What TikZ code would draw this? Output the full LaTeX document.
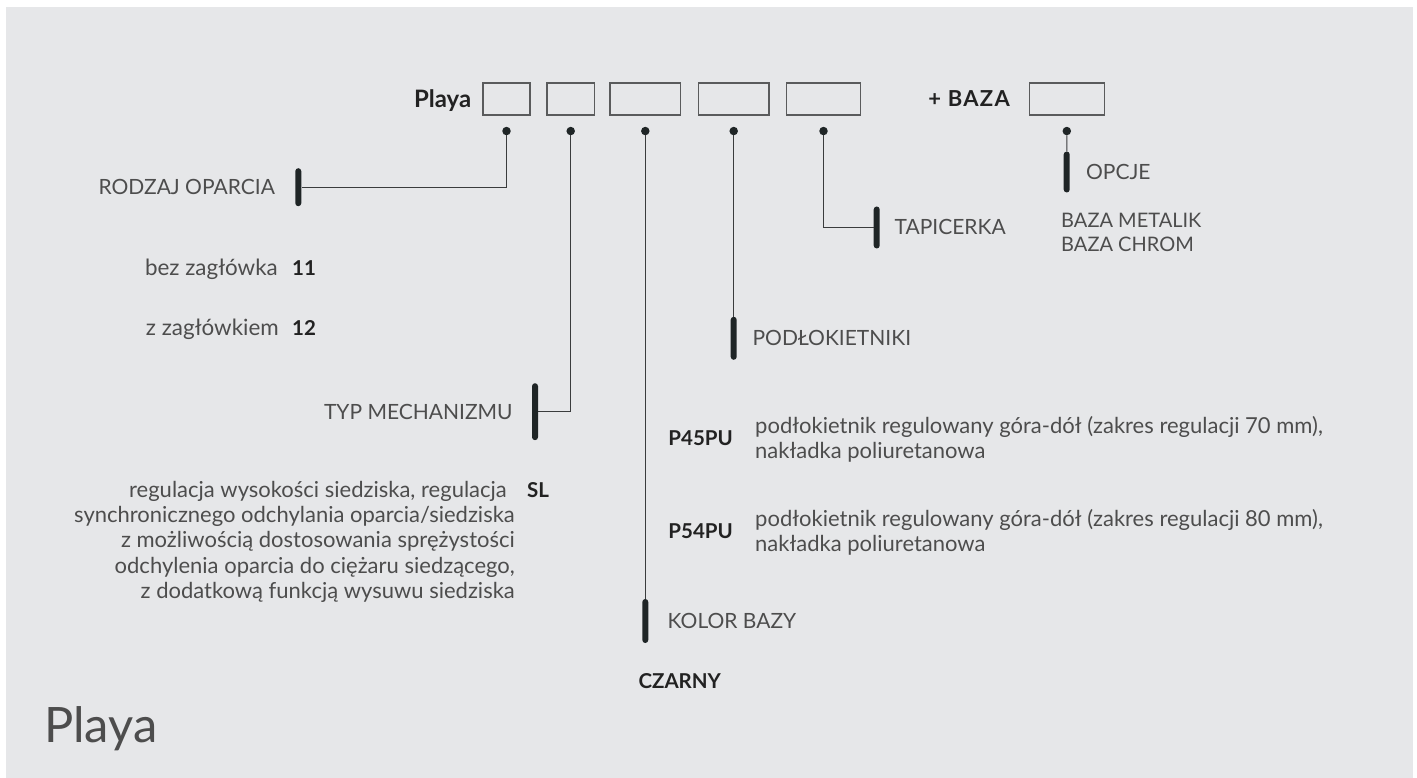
\documentclass[tikz,border=0pt]{standalone}
\usepackage{fontspec}
\setmainfont{Lato}
\usetikzlibrary{positioning}

\definecolor{bgcol}{HTML}{E6E7E9}
\definecolor{inkcol}{HTML}{1F2526}
\definecolor{wirecol}{HTML}{3A3C3D}
\definecolor{boxcol}{HTML}{5A5B5C}
\definecolor{txtcol}{HTML}{4D4D4D}
\definecolor{codecol}{HTML}{222222}

\begin{document}
\begin{tikzpicture}[
		x=1pt, y=-1pt,
		slot/.style={draw=boxcol, line width=1.2pt, minimum height=32pt, inner sep=0pt},
		pin/.style={circle, fill=inkcol, minimum size=8.5pt, inner sep=0pt},
		bar/.style={fill=inkcol, rounded corners=3pt, minimum width=6pt, inner sep=0pt},
		wire/.style={draw=wirecol, line width=1pt},
		head/.style={text=codecol, font=\bfseries\fontsize{24}{28}\selectfont, inner sep=0pt, text height=17.3pt, text depth=0pt},
		lbl/.style={text=txtcol, font=\fontsize{21}{25}\selectfont, inner sep=0pt, text height=15pt, text depth=0pt},
		opt/.style={text=txtcol, font=\fontsize{22.4}{24}\selectfont, inner sep=0pt},
		code/.style={text=codecol, font=\bfseries\fontsize{20.5}{25}\selectfont, inner sep=0pt},
		desc/.style={text=txtcol, font=\fontsize{22}{25.3}\selectfont, inner sep=0pt},
		title/.style={text=txtcol, font=\fontsize{48.8}{52}\selectfont, inner sep=0pt}
		]
		
		% background
		\fill[white] (0,0) rectangle (1417,778);
		\fill[bgcol] (6,7) rectangle (1413,778);
		\useasboundingbox (0,0) rectangle (1417,778);
		
		% code slots
		\node[slot, minimum width=47pt] (s1) at (506.5,99) {};
		\node[slot, minimum width=47.3pt] (s2) at (570.7,99) {};
		\node[slot, minimum width=70.7pt] (s3) at (645.3,99) {};
		\node[slot, minimum width=70.7pt] (s4) at (733.7,99) {};
		\node[slot, minimum width=74.4pt] (s5) at (823.5,99) {};
		\node[slot, minimum width=75pt] (s6) at (1066.8,99) {};
		\node[head, left=11pt of s1] (model) {Playa};
		\node[head, font=\bfseries\fontsize{22}{26}\selectfont\addfontfeature{LetterSpace=6}, text height=16pt, left=18.6pt of s6] (baza) {+ BAZA};
		
		\node[pin, below=11pt of s1] (p1) {};
		\node[pin, below=11pt of s2] (p2) {};
		\node[pin, below=11pt of s3] (p3) {};
		\node[pin, below=11pt of s4] (p4) {};
		\node[pin, below=11pt of s5] (p5) {};
		\node[pin, below=11pt of s6] (p6) {};
		
		% markers
		\node[bar, minimum height=38pt] (b1) at (298.3,187.2) {};
		\node[bar, minimum height=57pt] (b2) at (535,411.7) {};
		\node[bar, minimum height=44pt] (b3) at (645.3,621) {};
		\node[bar, minimum height=43pt] (b4) at (733.7,338.3) {};
		\node[bar, minimum height=42pt] (b5) at (876.7,227.5) {};
		\node[bar, minimum height=41pt] (b6) at (1066.7,172) {};
		
		\node[lbl, left=20pt of b1] (t1) {RODZAJ OPARCIA};
		\node[lbl, left=19pt of b2] (t2) {TYP MECHANIZMU};
		\node[lbl, right=19pt of b3] (t3) {KOLOR BAZY};
		\node[lbl, right=15.5pt of b4] (t4) {PODŁOKIETNIKI};
		\node[lbl, right=14.5pt of b5] (t5) {TAPICERKA};
		\node[lbl, right=16pt of b6] (t6) {OPCJE};
		
		\draw[wire] (p1) |- (b1);
		\draw[wire] (p2) |- (b2);
		\draw[wire] (p3) -- (b3);
		\draw[wire] (p4) -- (b4);
		\draw[wire] (p5) |- (b5);
		\draw[wire] (p6) -- (b6);
		
		% options
		\node[code, anchor=base west] (c11) at (292,275.5) {11};
		\node[opt, base left=14pt of c11] (o11) {bez zagłówka};
		\node[code, anchor=base west] (c12) at (292,335) {12};
		\node[opt, base left=13pt of c12] (o12) {z zagłówkiem};
		
		\node[code, anchor=base west] (csl) at (527,497.5) {SL};
		\node[desc, align=right, anchor=base east] (dsl) at (515,598.3) {regulacja wysokości siedziska, regulacja\kern8pt\\
			synchronicznego odchylania oparcia/siedziska\\
			z możliwością dostosowania sprężystości\\
			odchylenia oparcia do ciężaru siedzącego,\\
			z dodatkową funkcją wysuwu siedziska};
		
		\node[code, anchor=base east] (c45) at (733,445.3) {P45PU};
		\node[desc, align=left, anchor=base west] (d45) at (755,458.3) {podłokietnik regulowany góra-dół (zakres regulacji 70 mm),\\ nakładka poliuretanowa};
		\node[code, anchor=base east] (c54) at (733,538.3) {P54PU};
		\node[desc, align=left, anchor=base west] (d54) at (755,551.6) {podłokietnik regulowany góra-dół (zakres regulacji 80 mm),\\ nakładka poliuretanowa};
		
		\node[code, anchor=base west] (czarny) at (638.3,688.3) {CZARNY};
		\node[opt, font=\fontsize{20}{24}\selectfont, align=left, anchor=base west] (bazy) at (1061,251.7) {BAZA METALIK\\ BAZA CHROM};
		
		\node[title, anchor=base west] (name) at (44,742.3) {Playa};
		
	\end{tikzpicture}
\end{document}
